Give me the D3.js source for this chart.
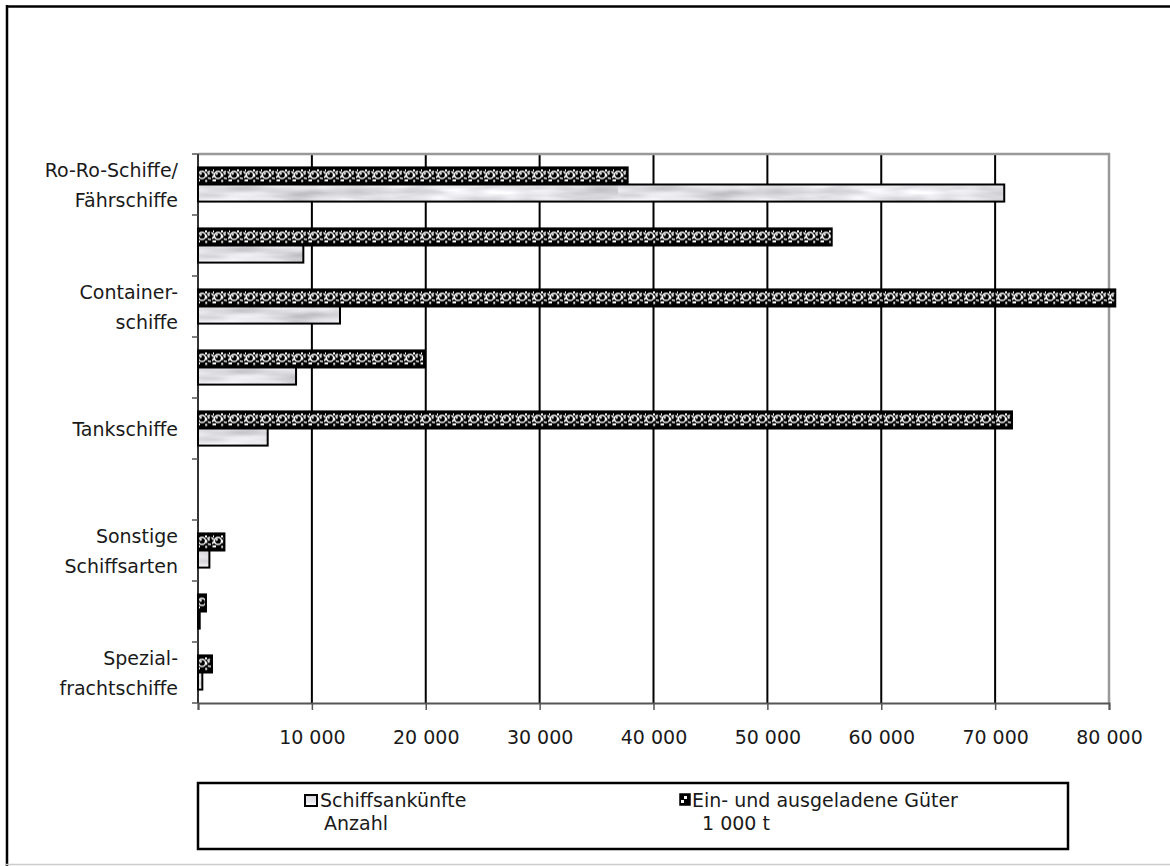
<!DOCTYPE html>
<html>
<head>
<meta charset="utf-8">
<style>
	body { margin: 0; background: #fff; }
	svg { display: block; }
	text { font-family: "DejaVu Sans", sans-serif; fill: #1a1a1a; }
	.tick text { font-size: 19px; }
	.cat { font-size: 19px; }
	.leg { font-size: 19px; }
</style>
</head>
<body>
<svg width="1170" height="866"></svg>
<script src="https://d3js.org/d3.v7.min.js"></script>
<script>

// Kategorien (jede zweite Beschriftung ist ausgeblendet)
var categories = [
	["Ro-Ro-Schiffe/", "Fährschiffe"],
	[],
	["Container-", "schiffe"],
	[],
	["Tankschiffe"],
	[],
	["Sonstige", "Schiffsarten"],
	[],
	["Spezial-", "frachtschiffe"]
];
// Schiffsankünfte, Anzahl
var arrivals = [70800, 9250, 12470, 8610, 6120, 0, 1000, 150, 380];
// Ein- und ausgeladene Güter, 1 000 t
var goods = [37730, 55650, 80550, 19850, 71480, 0, 2320, 700, 1230];
var xTicks = [10000, 20000, 30000, 40000, 50000, 60000, 70000, 80000];
var seriesNames = ["goods", "arrivals"];

var svg = d3.select("svg"),
margin = { top: 154, right: 61, bottom: 163, left: 198 },
width = +svg.attr("width") - margin.left - margin.right,
height = +svg.attr("height") - margin.top - margin.bottom;

// Muster
var defs = svg.append("defs");

var turb = defs.append("filter").attr("id", "turb")
	.attr("x", 0).attr("y", 0).attr("width", 1).attr("height", 1)
	.attr("color-interpolation-filters", "sRGB");
turb.append("feTurbulence")
	.attr("type", "fractalNoise")
	.attr("baseFrequency", "0.014 0.1")
	.attr("numOctaves", 3)
	.attr("seed", 7)
	.attr("result", "noise");
turb.append("feColorMatrix").attr("type", "saturate").attr("values", 0);
var ct = turb.append("feComponentTransfer");
ct.append("feFuncR").attr("type", "linear").attr("slope", 0.55).attr("intercept", 0.62);
ct.append("feFuncG").attr("type", "linear").attr("slope", 0.55).attr("intercept", 0.62);
ct.append("feFuncB").attr("type", "linear").attr("slope", 0.55).attr("intercept", 0.635);
ct.append("feFuncA").attr("type", "linear").attr("slope", 0).attr("intercept", 1);

var marble = defs.append("pattern").attr("id", "marble")
	.attr("patternUnits", "userSpaceOnUse")
	.attr("width", 420).attr("height", 60);
marble.append("rect").attr("width", 420).attr("height", 60)
	.attr("fill", "#e6e6e8").attr("filter", "url(#turb)");

// Kugelmuster, eine Reihe je Balken
var dots = defs.append("pattern").attr("id", "dots")
	.attr("patternUnits", "userSpaceOnUse")
	.attr("width", 16).attr("height", 20);
dots.append("rect").attr("width", 16).attr("height", 20).attr("fill", "#000");
[4, 12].forEach(function (cx, k) {
	dots.append("circle").attr("cx", cx).attr("cy", 7.5).attr("r", 3.6)
		.attr("fill", "#000").attr("stroke", "#fff").attr("stroke-width", 1.5)
		.attr("stroke-dasharray", k ? "3.2 1.3" : null);
	dots.append("circle").attr("cx", cx - 1.2).attr("cy", 6.3).attr("r", 1.1).attr("fill", "#fff");
});
[[7, 2], [15, 2], [0, 12], [7.2, 12.5], [14.5, 12]].forEach(function (p) {
	dots.append("rect").attr("x", p[0]).attr("y", p[1]).attr("width", 2).attr("height", 2).attr("fill", "#fff");
});

// Rahmen
svg.append("line").attr("x1", 6).attr("x2", 1170).attr("y1", 6.5).attr("y2", 6.5)
	.attr("stroke", "#000").attr("stroke-width", 2.5);
svg.append("line").attr("x1", 7).attr("x2", 7).attr("y1", 5).attr("y2", 866)
	.attr("stroke", "#000").attr("stroke-width", 2.5);
svg.append("line").attr("x1", 6).attr("x2", 1170).attr("y1", 864.5).attr("y2", 864.5)
	.attr("stroke", "#ccc").attr("stroke-width", 1.5);

var g = svg.append("g").attr("transform", "translate(" + margin.left + "," + margin.top + ")");

var x = d3.scaleLinear()
	.domain([0, 80000])
	.range([0, width]);

var y = d3.scaleBand()
	.domain(d3.range(categories.length))
	.range([0, height])
	.paddingInner(0.44)
	.paddingOuter(0.22);

var y1 = d3.scaleBand()
	.domain(seriesNames)
	.range([0, y.bandwidth()]);

// Gitternetz
g.selectAll(".grid")
	.data(xTicks.slice(0, -1))
	.enter().append("line")
	.attr("class", "grid")
	.attr("x1", function (d) { return x(d); })
	.attr("x2", function (d) { return x(d); })
	.attr("y1", 0)
	.attr("y2", height)
	.attr("stroke", "#000")
	.attr("stroke-width", 2);

// Zeichnungsfläche oben und rechts
g.append("path")
	.attr("d", "M0,0H" + x(80000) + "V" + height)
	.attr("fill", "none")
	.attr("stroke", "#999")
	.attr("stroke-width", 2.5);

// x-Achse
var xAxis = g.append("g")
	.attr("transform", "translate(0," + height + ")")
	.call(d3.axisBottom(x)
		.tickValues([0].concat(xTicks))
		.tickSize(7)
		.tickPadding(21)
		.tickFormat(function (d) { return d === 0 ? "" : d3.format(",")(d).replace(/,/g, " "); }));
xAxis.select(".domain").attr("stroke", "#555").attr("stroke-width", 2);
xAxis.selectAll(".tick line").attr("stroke", "#555").attr("stroke-width", 1.5);
xAxis.selectAll(".tick text").attr("fill", "#1a1a1a");

// y-Achse
var yTicks = d3.range(categories.length + 1).map(function (i) {
	return i < categories.length ? y(i) - y.step() * y.paddingInner() / 2 : height;
});
g.append("line")
	.attr("x1", 0).attr("x2", 0).attr("y1", 0).attr("y2", height)
	.attr("stroke", "#333").attr("stroke-width", 2);
g.selectAll(".ytick")
	.data(yTicks)
	.enter().append("line")
	.attr("class", "ytick")
	.attr("x1", -6).attr("x2", 0)
	.attr("y1", function (d) { return d; })
	.attr("y2", function (d) { return d; })
	.attr("stroke", "#555").attr("stroke-width", 1.5);

// Kategorie-Beschriftung
g.selectAll(".cat")
	.data(categories)
	.enter().append("text")
	.attr("class", "cat")
	.attr("text-anchor", "end")
	.attr("x", -20)
	.attr("y", function (d, i) { return y(i) + y.bandwidth() / 2; })
	.each(function (d) {
		var t = d3.select(this);
		var n = d.length;
		d.forEach(function (line, k) {
			t.append("tspan")
				.attr("x", -20)
				.attr("dy", k === 0 ? (0.37 - (n - 1) * 0.79) + "em" : "1.58em")
				.text(line);
		});
	});

// Balken
var rows = categories.map(function (c, i) {
	return { i: i, goods: goods[i], arrivals: arrivals[i] };
});

var grp = g.selectAll(".grp")
	.data(rows)
	.enter().append("g")
	.attr("class", "grp")
	.attr("transform", function (d) { return "translate(0," + y(d.i) + ")"; });

grp.selectAll("rect")
	.data(function (d) {
		return seriesNames.map(function (k) { return { key: k, value: d[k] }; })
			.filter(function (e) { return e.value > 0; });
	})
	.enter().append("rect")
	.attr("x", x(0))
	.attr("y", function (d) { return y1(d.key); })
	.attr("width", function (d) { return x(d.value) - x(0); })
	.attr("height", y1.bandwidth())
	.attr("fill", function (d) { return d.key === "goods" ? "url(#dots)" : "url(#marble)"; })
	.attr("stroke", "#000")
	.attr("stroke-width", 2);

// Legende
var leg = svg.append("g");
leg.append("rect")
	.attr("x", 198).attr("y", 783)
	.attr("width", 870).attr("height", 66)
	.attr("fill", "#fff")
	.attr("stroke", "#000")
	.attr("stroke-width", 2.5);

leg.append("rect")
	.attr("x", 305).attr("y", 795).attr("width", 12).attr("height", 11)
	.attr("fill", "url(#marble)").attr("stroke", "#000").attr("stroke-width", 2);
leg.append("text").attr("class", "leg").attr("x", 320).attr("y", 807).text("Schiffsankünfte");
leg.append("text").attr("class", "leg").attr("x", 324).attr("y", 830).text("Anzahl");

leg.append("rect")
	.attr("x", 680).attr("y", 794).attr("width", 10).attr("height", 11)
	.attr("fill", "#000").attr("stroke", "#000").attr("stroke-width", 1.5);
leg.append("rect").attr("x", 684).attr("y", 796).attr("width", 3).attr("height", 3).attr("fill", "#fff");
leg.append("rect").attr("x", 681).attr("y", 800).attr("width", 3).attr("height", 3).attr("fill", "#fff");
leg.append("text").attr("class", "leg").attr("x", 692).attr("y", 807).text("Ein- und ausgeladene Güter");
leg.append("text").attr("class", "leg").attr("x", 702).attr("y", 830).text("1 000 t");

</script>
</body>
</html>
